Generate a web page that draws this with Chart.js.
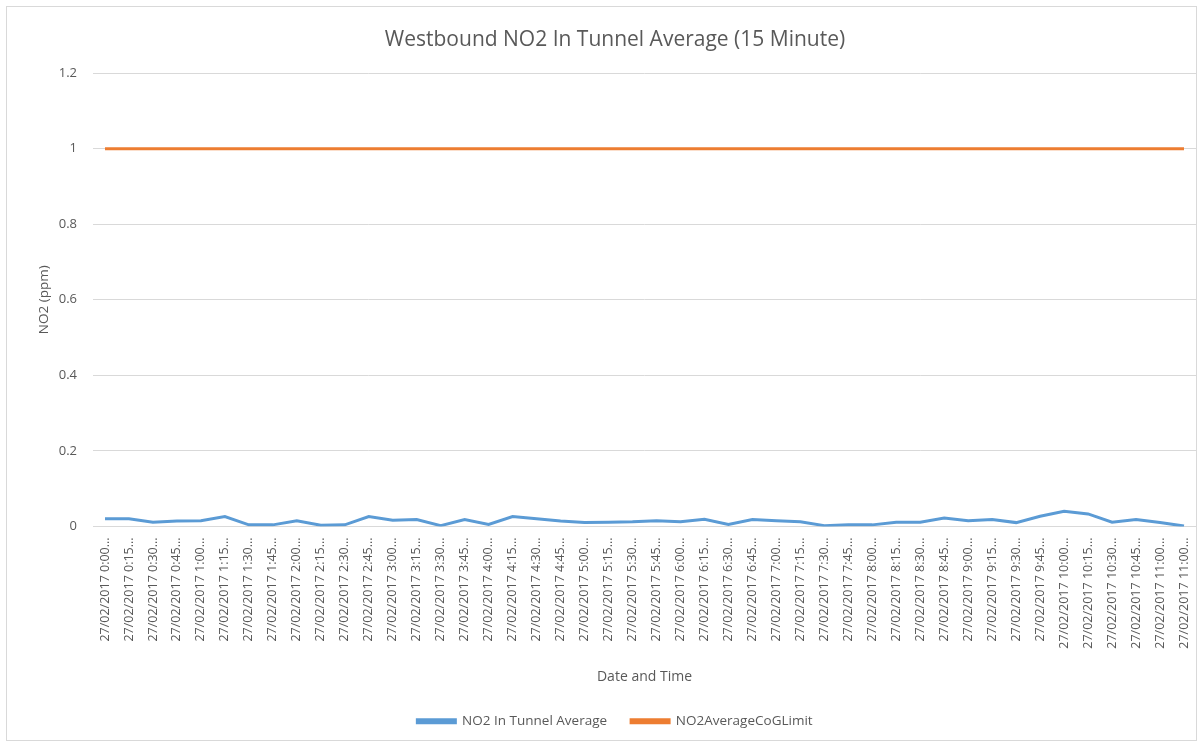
<!DOCTYPE html>
<html>
<head>
<meta charset="utf-8">
<script src="https://cdn.jsdelivr.net/npm/chart.js@4/dist/chart.umd.min.js"></script>
<style>
  html, body { margin: 0; padding: 0; background: #fff; }
  #wrap { position: absolute; left: 0; top: 0; width: 1202px; height: 744px; }
</style>
</head>
<body>
<div id="wrap"><canvas id="no2Chart"></canvas></div>
<script>
const times = ['0:00', '0:15', '0:30', '0:45', '1:00', '1:15', '1:30', '1:45', '2:00', '2:15', '2:30', '2:45',
    '3:00', '3:15', '3:30', '3:45', '4:00', '4:15', '4:30', '4:45', '5:00', '5:15', '5:30', '5:45',
    '6:00', '6:15', '6:30', '6:45', '7:00', '7:15', '7:30', '7:45', '8:00', '8:15', '8:30', '8:45',
    '9:00', '9:15', '9:30', '9:45', '10:00', '10:15', '10:30', '10:45', '11:00', '11:00'];
const labels = times.map(t => '27/02/2017 ' + t + '...');

const no2Average = [0.020, 0.020, 0.011, 0.014, 0.015, 0.026, 0.004, 0.004, 0.015, 0.003, 0.004, 0.026,
    0.016, 0.018, 0.002, 0.018, 0.005, 0.026, 0.020, 0.014, 0.010, 0.011, 0.012, 0.015,
    0.012, 0.019, 0.005, 0.018, 0.015, 0.012, 0.002, 0.004, 0.004, 0.011, 0.011, 0.022,
    0.015, 0.018, 0.010, 0.027, 0.040, 0.033, 0.011, 0.018, 0.010, 0.001];
const cogLimit = times.map(() => 1);

const yTicks = [0, 0.2, 0.4, 0.6, 0.8, 1, 1.2];

const textColor = '#595959';
const fontFamily = "'Open Sans', 'Liberation Sans', sans-serif";

// light grey frame round the whole chart, like the spreadsheet chart box
const frame = {
    id: 'frame',
    afterDraw(chart) {
        const c = chart.ctx;
        c.save();
        c.strokeStyle = '#d9d9d9';
        c.lineWidth = 1;
        c.strokeRect(6.5, 6.5, 1190, 734);
        c.restore();
    }
};

const ctx = document.getElementById('no2Chart').getContext('2d');

const no2Chart = new Chart(ctx, {
    type: 'line',
    data: {
        labels: labels,
        datasets: [{
            label: 'NO2 In Tunnel Average',
            data: no2Average,
            borderColor: '#5b9bd5',
            backgroundColor: '#5b9bd5',
            borderWidth: 3,
            pointRadius: 0,
            tension: 0
        }, {
            label: 'NO2AverageCoGLimit',
            data: cogLimit,
            borderColor: '#ed7d31',
            backgroundColor: '#ed7d31',
            borderWidth: 3,
            pointRadius: 0,
            tension: 0
        }]
    },
    options: {
        responsive: true,
        maintainAspectRatio: false,
        animation: false,
        layout: { padding: { left: 28, right: 0, top: 17, bottom: 6 } },
        plugins: {
            title: {
                display: true,
                text: 'Westbound NO2 In Tunnel Average (15 Minute)',
                color: textColor,
                font: { family: fontFamily, size: 21, weight: 'normal' },
                padding: { top: 10, bottom: 21 }
            },
            legend: {
                position: 'bottom',
                labels: {
                    color: textColor,
                    font: { family: fontFamily, size: 13.5 },
                    boxWidth: 38,
                    boxHeight: 3,
                    padding: 24
                }
            },
            tooltip: { enabled: false }
        },
        scales: {
            x: {
                offset: true,
                grid: { display: false },
                border: { color: '#d9d9d9' },
                ticks: {
                    color: textColor,
                    font: { family: fontFamily, size: 12.5 },
                    autoSkip: false,
                    minRotation: 90,
                    maxRotation: 90,
                    padding: 3
                },
                title: {
                    display: true,
                    text: 'Date and Time',
                    color: textColor,
                    font: { family: fontFamily, size: 14 },
                    padding: { top: 17, bottom: 5 }
                }
            },
            y: {
                min: 0,
                max: 1.2,
                afterBuildTicks: axis => { axis.ticks = yTicks.map(v => ({ value: v })); },
                afterFit: axis => { axis.width = 65; },
                grid: { color: '#d9d9d9', drawTicks: false },
                border: { display: false },
                ticks: {
                    color: textColor,
                    font: { family: fontFamily, size: 13 },
                    padding: 16,
                    callback: v => String(v)
                },
                title: {
                    display: true,
                    text: 'NO2 (ppm)',
                    color: textColor,
                    font: { family: fontFamily, size: 13.5 },
                    padding: { top: 8, bottom: 4 }
                }
            }
        }
    },
    plugins: [frame]
});
</script>
</body>
</html>
